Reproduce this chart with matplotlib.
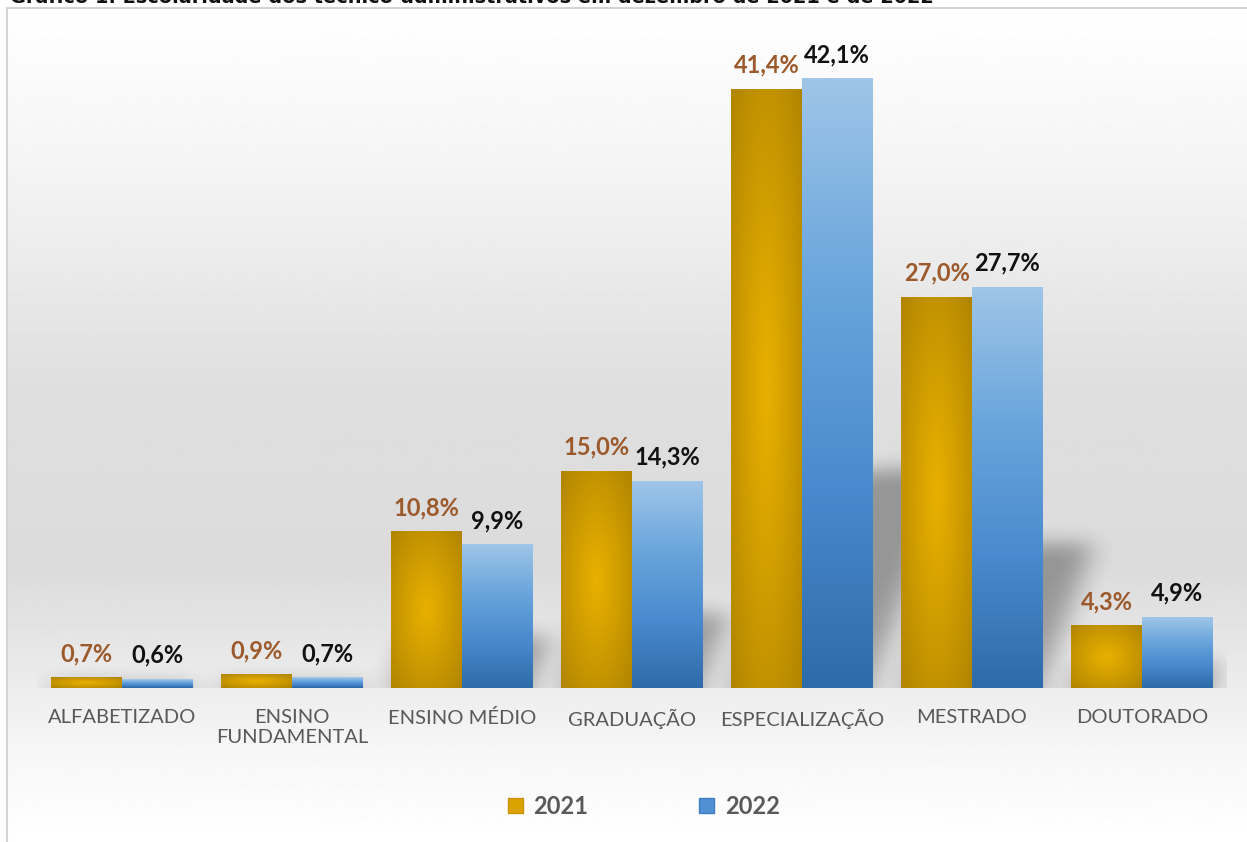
import numpy as np
import matplotlib
matplotlib.use("Agg")
import matplotlib.pyplot as plt
from matplotlib.colors import LinearSegmentedColormap, to_rgb
from matplotlib.patches import Rectangle, Patch

# ---- data ----
categories = ["ALFABETIZADO", "ENSINO\nFUNDAMENTAL", "ENSINO MÉDIO", "GRADUAÇÃO",
              "ESPECIALIZAÇÃO", "MESTRADO", "DOUTORADO"]
vals_2021 = [0.7, 0.9, 10.8, 15.0, 41.4, 27.0, 4.3]
vals_2022 = [0.6, 0.7, 9.9, 14.3, 42.1, 27.7, 4.9]
series_names = ["2021", "2022"]
title = "Gráfico 1. Escolaridade dos técnico-administrativos em dezembro de 2021 e de 2022"

plt.rcParams["font.family"] = ["Lato", "DejaVu Sans"]

W, H = 1247, 842
fig = plt.figure(figsize=(W / 100, H / 100), dpi=100)

# background gradient inside the chart frame
bg = fig.add_axes([7 / W, 0, 1 - 7 / W, 1 - 8 / H], zorder=0)
ys = np.linspace(0, 1, 400)          # 0 = bottom, 1 = top of frame
stops_y = [0.0, 0.10, 0.20, 0.33, 0.55, 0.80, 1.0]
stops_g = [1.00, 0.97, 0.92, 0.86, 0.875, 0.955, 1.0]
g = np.interp(ys, stops_y, stops_g)
bg.imshow(np.repeat(g[:, None], 2, axis=1), cmap="gray", vmin=0, vmax=1,
          aspect="auto", origin="lower", extent=[0, 1, 0, 1])
bg.set_axis_off()
fig.add_artist(Rectangle((7 / W, -0.01), 1, 1 - 8 / H + 0.01, transform=fig.transFigure,
                         fill=False, edgecolor="#d4d4d4", linewidth=1.5, zorder=1))

# caption, cut off at the top edge as in the source image
fig.text(10 / W, 1 - 3 / H, title, fontsize=13.9, fontweight="bold",
         family="DejaVu Sans", va="baseline", ha="left", color="#111111")

ax = fig.add_axes([37 / W, 154 / H, 1190 / W, 651 / H], zorder=2)
ax.patch.set_alpha(0)
n = len(categories)
x = np.arange(n)
bw = 0.415
ax.set_xlim(-0.5, n - 0.5)
ax.set_ylim(0, 45)


def box_blur(a, r, axis):
    pad = [(0, 0), (0, 0)]
    pad[axis] = (r, r)
    p = np.pad(a, pad, mode="edge" if axis == 0 else "constant")
    c = np.cumsum(p, axis=axis)
    c = np.insert(c, 0, 0, axis=axis)
    m = a.shape[axis]
    hi = np.take(c, np.arange(2 * r + 1, 2 * r + 1 + m), axis=axis)
    lo = np.take(c, np.arange(0, m), axis=axis)
    return (hi - lo) / (2 * r + 1)


# soft perspective shadows behind the bars
sx = np.linspace(-0.5, n - 0.5, 900)
sy = np.linspace(0, 20, 260)
SX, SY = np.meshgrid(sx, sy)
mask = np.zeros_like(SX)
for i in range(n):
    for xl, h in ((x[i] - bw, vals_2021[i]), (x[i], vals_2022[i])):
        top = 0.36 * h
        k = 0.03
        inside = (SY <= top) & (SX >= xl + k * SY) & (SX <= xl + bw + k * SY)
        mask[inside] = 1.0
for _ in range(2):
    mask = box_blur(mask, 11, 1)
    mask = box_blur(mask, 9, 0)
shadow = np.zeros(mask.shape + (4,))
shadow[..., 3] = mask * 0.32
ax.imshow(shadow, extent=[-0.5, n - 0.5, 0, 20], origin="lower", aspect="auto",
          zorder=1, interpolation="bilinear")

gold_bright = np.array(to_rgb("#e8b000"))
gold_dark = np.array(to_rgb("#b08400"))
blue_cmap = LinearSegmentedColormap.from_list(
    "blue", ["#2e6baa", "#4a8ace", "#6aa6dc", "#9fc5e8"])


def gold_img(hpx):
    u = np.linspace(-1, 1, 60)
    v = np.linspace(-1, 1, max(int(hpx), 4))
    U, V = np.meshgrid(u, v)
    r = np.clip(np.sqrt((U ** 2 + V ** 2) / 2), 0, 1) ** 1.1
    return gold_bright[None, None, :] + (gold_dark - gold_bright)[None, None, :] * r[..., None]


def blue_img(hpx):
    v = np.linspace(0, 1, max(int(hpx), 4))
    return blue_cmap(np.repeat(v[:, None], 4, axis=1))


px_per_unit = 651 / 45
for i in range(n):
    h1, h2 = vals_2021[i], vals_2022[i]
    ax.imshow(gold_img(h1 * px_per_unit), extent=[x[i] - bw, x[i], 0, h1],
              origin="lower", aspect="auto", zorder=2, interpolation="bilinear")
    ax.imshow(blue_img(h2 * px_per_unit), extent=[x[i], x[i] + bw, 0, h2],
              origin="lower", aspect="auto", zorder=2, interpolation="bilinear")
    ax.annotate(f"{h1:.1f}%".replace(".", ","), (x[i] - bw / 2, h1), xytext=(0, 12),
                textcoords="offset points", ha="center", va="baseline",
                fontsize=17, fontweight="bold", color="#9c5a2c", zorder=4)
    ax.annotate(f"{h2:.1f}%".replace(".", ","), (x[i] + bw / 2, h2), xytext=(0, 12),
                textcoords="offset points", ha="center", va="baseline",
                fontsize=17, fontweight="bold", color="#111111", zorder=4)

ax.set_xlim(-0.5, n - 0.5)
ax.set_ylim(0, 45)
ax.set_xticks(x)
ax.set_xticklabels(categories, fontsize=14.5, color="#595959", linespacing=1.25)
ax.tick_params(axis="x", length=0, pad=15)
ax.set_yticks([])
for s in ax.spines.values():
    s.set_visible(False)

handles = [Patch(facecolor="#d9a300", edgecolor="#c89400", label=series_names[0]),
           Patch(facecolor="#4f8fd2", edgecolor="#3f7fc2", label=series_names[1])]
leg = fig.legend(handles=handles, loc="center", bbox_to_anchor=(644 / W, 1 - 806 / H),
                 ncol=2, frameon=False, handlelength=0.62, handleheight=0.62,
                 handletextpad=0.45, columnspacing=4.7,
                 prop={"size": 17, "weight": "bold"})
for t in leg.get_texts():
    t.set_color("#595959")

fig.savefig("out.png", dpi=100)
